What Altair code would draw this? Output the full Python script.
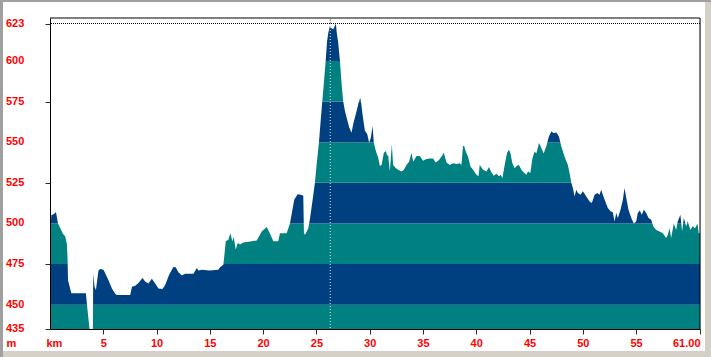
import altair as alt
import pandas as pd

# ---- data ----
km = [0.00, 0.12, 0.40, 0.56, 0.75, 0.97, 1.18, 1.43, 1.59, 1.65, 1.69, 1.81, 2.00, 3.37, 3.47, 3.71, 3.75, 4.02,
      4.06, 4.18, 4.31, 4.55, 4.71, 5.02, 5.49, 5.81, 6.12, 6.28, 7.53, 7.69, 8.00, 8.30, 8.68, 8.93, 9.24, 9.56,
      9.87, 10.18, 10.55, 10.80, 11.18, 11.58, 11.80, 12.05, 12.21, 12.37, 12.68, 13.46, 13.78, 13.93, 14.25, 15.00,
      15.80, 15.96, 16.27, 16.50, 16.74, 16.93, 17.11, 17.24, 17.43, 17.62, 17.84, 18.14, 18.93, 19.40, 19.87, 20.34,
      20.65, 20.96, 21.42, 21.58, 22.21, 22.52, 22.74, 22.92, 23.24, 23.55, 23.77, 23.83, 23.93, 24.24, 24.40, 24.70,
      24.86, 25.05, 25.24, 25.40, 25.55, 25.71, 25.87, 26.00, 26.11, 26.27, 26.43, 26.58, 26.74, 26.83, 26.90, 27.05,
      27.21, 27.37, 27.52, 27.68, 27.84, 28.08, 28.30, 28.45, 28.77, 29.02, 29.15, 29.33, 29.55, 29.77, 29.95, 30.11,
      30.27, 30.39, 30.58, 30.80, 30.96, 31.12, 31.33, 31.52, 31.64, 31.73, 31.89, 32.08, 32.20, 32.46, 32.67, 32.99,
      33.21, 33.46, 33.70, 33.93, 34.08, 34.40, 34.70, 35.01, 35.33, 35.64, 35.95, 36.20, 36.51, 36.83, 36.95, 37.21,
      37.52, 37.83, 38.14, 38.45, 38.61, 38.76, 38.86, 39.02, 39.23, 39.46, 39.70, 40.02, 40.21, 40.33, 40.64, 40.96,
      41.20, 41.42, 41.64, 41.89, 42.14, 42.30, 42.46, 42.67, 42.89, 43.07, 43.21, 43.39, 43.61, 43.82, 44.01, 44.24,
      44.45, 44.70, 44.86, 45.08, 45.27, 45.48, 45.64, 45.89, 46.11, 46.33, 46.58, 46.82, 47.05, 47.26, 47.52, 47.76,
      47.98, 48.29, 48.60, 48.76, 48.92, 49.07, 49.23, 49.39, 49.54, 49.79, 50.01, 50.33, 50.64, 50.85, 51.11, 51.36,
      51.57, 51.73, 51.88, 52.11, 52.35, 52.61, 52.82, 52.98, 53.14, 53.29, 53.54, 53.76, 53.92, 54.08, 54.29, 54.55,
      54.79, 55.01, 55.16, 55.35, 55.54, 55.73, 55.95, 56.17, 56.42, 56.61, 56.89, 57.20, 57.51, 57.83, 57.98, 58.14,
      58.29, 58.54, 58.76, 58.91, 59.16, 59.32, 59.48, 59.70, 59.85, 60.10, 60.31, 60.54, 60.76, 60.88, 61.00]
elev = [490, 505, 506, 507, 500, 497, 494, 492, 487, 478, 465, 462, 457, 457, 450, 435, 432, 432,
        469, 461, 459, 471, 472, 471.5, 465, 460, 456.7, 456, 456, 461, 461.6, 463.3, 466.4, 464.3, 463, 466,
        463, 460, 459.6, 462, 468.4, 473.2, 473, 470, 469, 468, 469, 469, 472.5, 471, 471.5, 471,
        471.5, 473, 474.6, 489, 490, 494, 489, 491.6, 484, 488, 487, 488.3, 489, 489.5, 495, 497.8,
        493.6, 489, 489, 494, 494, 500, 508, 514.6, 518, 517.6, 517, 494, 493, 497, 503, 517,
        525, 538, 550, 563, 575, 587, 600, 612, 617, 621.5, 620, 619.5, 621.5, 623, 618, 611,
        600, 585.5, 575, 569, 565, 559, 555.8, 561, 569, 576, 577, 567, 557, 555, 549.6, 552.7,
        560, 549.6, 544.5, 540.4, 535.3, 536, 543.5, 544.5, 541.5, 542.4, 532, 548.6, 536, 534, 533, 532,
        533, 536, 538, 543.5, 538, 541.5, 541.5, 538.5, 539.6, 540, 540, 537.5, 539, 542, 543.7, 537.5,
        536, 537, 536.5, 537, 536, 547.4, 547.8, 544.3, 541, 535, 533, 530, 529, 536, 533, 532,
        534.7, 531.4, 529.3, 530.6, 529, 530, 528, 536, 543.3, 545.3, 543.3, 537, 534, 535.5, 536, 533,
        531.4, 530, 532, 531, 540, 544.3, 543, 549.5, 546.4, 543, 547.4, 553.5, 556.6, 555.6, 556, 553.5,
        547.4, 541, 536, 531, 525, 521.8, 516.6, 520.7, 518.7, 517.6, 519.7, 516.6, 513.5, 512.5, 517.6, 518.7,
        517.6, 520.7, 517.6, 513.5, 509.5, 507.4, 506.8, 501.2, 506.4, 503.3, 508.4, 514.6, 521.8, 515.6, 508.4, 503.3,
        500, 501.2, 506.4, 508, 505.3, 508.4, 506.4, 503.3, 502.3, 498.2, 496, 495, 494, 491, 493, 497,
        491, 500, 496, 501.2, 505.3, 495, 503.3, 498.2, 501.2, 496, 498.2, 497, 500, 494, 494]

band_lo = [435, 450, 475, 500, 525, 550, 575, 600]
band_hi = [450, 475, 500, 525, 550, 575, 600, 626.4]
band_fill = ["#008080", "#003f80", "#008080", "#003f80", "#008080", "#003f80", "#008080", "#003f80"]

y_ticks = [435, 450, 475, 500, 525, 550, 575, 600, 623]
x_ticks = [5, 10, 15, 20, 25, 30, 35, 40, 45, 50, 55, 61]
km_end = 61
y_min = 435
y_top = 626.4
max_elev = 623
marker_km = 26.3

profile = pd.DataFrame({"km": km, "elev": elev})
bands = pd.DataFrame({"lo": band_lo, "hi": band_hi, "fill": band_fill,
                      "km": [0] * len(band_lo), "km_end": [km_end] * len(band_lo)})
ylabels = pd.DataFrame({"lo": y_ticks})
one = pd.DataFrame({"a": [0]})

xs = alt.Scale(domain=[0, km_end], nice=False, zero=False)
ys = alt.Scale(domain=[y_min, y_top], nice=False, zero=False)

red = "#ff0000"
font = "Liberation Sans"
tick_col = "#1a3a1a"

x_axis = alt.Axis(values=x_ticks, title="km", labelExpr="datum.value == 61 ? '61.00' : datum.label",
                  labelColor=red, labelFont=font, labelFontSize=11, labelFontWeight="bold",
                  labelPadding=3, tickSize=5, tickColor=tick_col, domainColor="black", grid=False,
                  titleColor=red, titleFont=font, titleFontSize=11, titleFontWeight="bold",
                  titleX=-4, titleY=17, titleAlign="left", titleBaseline="alphabetic", labelFlush=True,
                  labelOverlap=False, zindex=1)
y_axis = alt.Axis(values=y_ticks, title="m", labels=False,
                  tickSize=5, tickColor=tick_col, domainColor="black", grid=False,
                  titleColor=red, titleFont=font, titleFontSize=11, titleFontWeight="bold",
                  titleAngle=0, titleX=-44, titleY=328, titleAlign="left", titleBaseline="alphabetic",
                  zindex=1)

band_layer = alt.Chart(bands).mark_rect().encode(
    x=alt.X("km:Q", scale=xs, axis=x_axis),
    x2="km_end:Q",
    y=alt.Y("lo:Q", scale=ys, axis=y_axis),
    y2="hi:Q",
    color=alt.Color("fill:N", scale=None, legend=None),
)

mask = alt.Chart(profile).mark_area(color="white", clip=True, interpolate="linear").encode(
    x=alt.X("km:Q"),
    y=alt.Y("elev:Q"),
    y2=alt.datum(y_top),
)

ylab_layer = alt.Chart(ylabels).mark_text(
    align="left", baseline="middle", font=font, fontSize=11, fontWeight="bold", color=red
).encode(
    y=alt.Y("lo:Q"),
    x=alt.value(-44),
    text=alt.Text("lo:Q", format="d"),
)

hline = alt.Chart(one).mark_rule(color="black", strokeDash=[1, 1], strokeWidth=1).encode(
    y=alt.datum(max_elev))
vline = alt.Chart(one).mark_rule(color="#e6e6e6", strokeDash=[1, 2], strokeWidth=1).encode(
    x=alt.datum(marker_km))
vline_top = alt.Chart(one).mark_rule(color="black", strokeDash=[1, 2], strokeWidth=1).encode(
    x=alt.datum(marker_km), y=alt.datum(max_elev), y2=alt.datum(y_top))
frame_top = alt.Chart(one).mark_rule(color="black", strokeWidth=1).encode(y=alt.datum(y_top))
frame_right = alt.Chart(one).mark_rule(color="black", strokeWidth=1).encode(x=alt.datum(km_end))

# window border decoration (pixels relative to plot origin)
b_left = alt.Chart(one).mark_rule(color="#a0a0a0", strokeWidth=3).encode(
    x=alt.value(-48.5), y=alt.value(-18), y2=alt.value(339))
b_top = alt.Chart(one).mark_rule(color="#a0a0a0", strokeWidth=2).encode(
    y=alt.value(-17), x=alt.value(-50), x2=alt.value(661))
b_bottom = alt.Chart(one).mark_rule(color="#d4d0c8", strokeWidth=6).encode(
    y=alt.value(336), x=alt.value(-47), x2=alt.value(661))
b_right = alt.Chart(one).mark_rule(color="#d4d0c8", strokeWidth=6).encode(
    x=alt.value(658), y=alt.value(-16), y2=alt.value(339))

chart = alt.layer(band_layer, mask, ylab_layer, hline, vline, vline_top, frame_top, frame_right,
                  b_left, b_top, b_bottom, b_right).properties(
    width=650, height=311,
    padding={"left": 50, "top": 18, "right": 11, "bottom": 28},
    autosize="none",
).configure_view(stroke="black", strokeWidth=1).configure(background="white")

chart.save("out.html", embed_options={"renderer": "svg", "actions": False})
